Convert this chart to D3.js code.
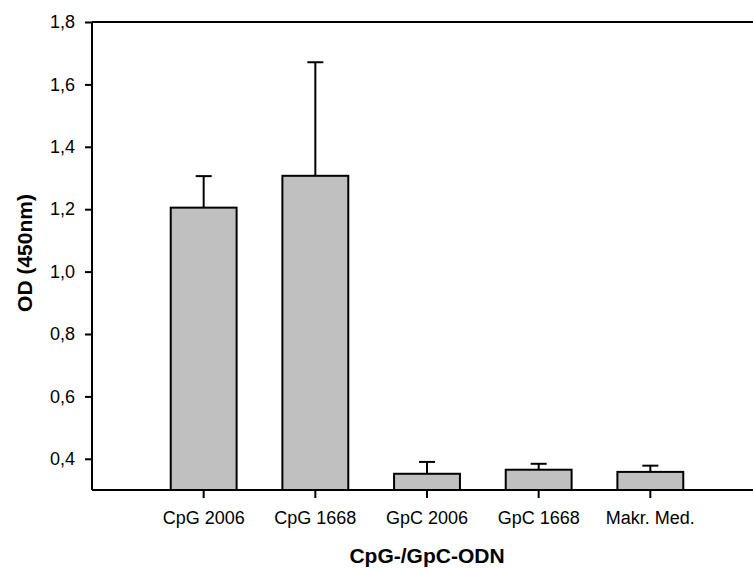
<!DOCTYPE html>
<html>
<head>
<meta charset="utf-8">
<script src="https://cdn.jsdelivr.net/npm/d3@7"></script>
<style>
  html, body { margin: 0; padding: 0; background: #fff; }
  svg { display: block; }
  text { font-family: "Liberation Sans", Arial, sans-serif; fill: #000; }
</style>
</head>
<body>
<svg id="chart" width="753" height="568"></svg>
<script>
// OD readings per ODN treatment, with the upper error (mean + SD)
const categories = ["CpG 2006", "CpG 1668", "GpC 2006", "GpC 1668", "Makr. Med."];
const means      = [1.205, 1.307, 0.352, 0.365, 0.358];
const upperError = [1.306, 1.671, 0.390, 0.384, 0.378];
const yTicks     = [0.4, 0.6, 0.8, 1.0, 1.2, 1.4, 1.6, 1.8];

const svg = d3.select("#chart");

const plot = { left: 92, right: 762, top: 22, bottom: 490 };
const slot = (plot.right - plot.left) / 6;

const x = d3.scaleBand()
  .domain(categories)
  .range([plot.left + slot / 2, plot.left + slot * 5.5])
  .paddingInner(0.41)
  .paddingOuter(0.205);

const y = d3.scaleLinear()
  .domain([0.3, 1.8])
  .range([plot.bottom, plot.top]);

const fmt = d => d3.format(".1f")(d).replace(".", ",");

// bars
svg.append("g").selectAll("rect")
  .data(categories)
  .join("rect")
  .attr("x", d => x(d))
  .attr("width", x.bandwidth())
  .attr("y", (d, i) => y(means[i]))
  .attr("height", (d, i) => y(0.3) - y(means[i]))
  .attr("fill", "#c0c0c0")
  .attr("stroke", "#000")
  .attr("stroke-width", 2);

// error bars (upper only)
const capHalf = 8;
const err = svg.append("g").attr("stroke", "#000").attr("stroke-width", 2);
categories.forEach((c, i) => {
  const cx = x(c) + x.bandwidth() / 2;
  err.append("line")
    .attr("x1", cx).attr("x2", cx)
    .attr("y1", y(means[i])).attr("y2", y(upperError[i]));
  err.append("line")
    .attr("x1", cx - capHalf).attr("x2", cx + capHalf)
    .attr("y1", y(upperError[i])).attr("y2", y(upperError[i]));
});

// frame: top edge line
svg.append("line")
  .attr("x1", plot.left).attr("x2", plot.right)
  .attr("y1", plot.top).attr("y2", plot.top)
  .attr("stroke", "#000").attr("stroke-width", 2);

// y axis
const yAxis = svg.append("g")
  .attr("transform", `translate(${plot.left},0)`)
  .call(d3.axisLeft(y).tickValues(yTicks).tickFormat(fmt).tickSize(7).tickPadding(10));
yAxis.select(".domain").attr("stroke-width", 2).attr("d", `M0,${plot.bottom}V${plot.top}`);
yAxis.selectAll(".tick line").attr("stroke-width", 2);
yAxis.selectAll(".tick text")
  .style("font-family", "Liberation Sans, Arial, sans-serif")
  .style("font-size", "18px");

// x axis
const xAxis = svg.append("g")
  .attr("transform", `translate(0,${plot.bottom})`)
  .call(d3.axisBottom(x).tickSize(8).tickPadding(13));
xAxis.select(".domain").attr("stroke-width", 2).attr("d", `M${plot.left},0H${plot.right}`);
xAxis.selectAll(".tick line").attr("stroke-width", 2);
xAxis.selectAll(".tick text")
  .style("font-family", "Liberation Sans, Arial, sans-serif")
  .style("font-size", "18px");

// axis titles
svg.append("text")
  .attr("x", 427).attr("y", 563)
  .attr("text-anchor", "middle")
  .style("font-weight", "bold").style("font-size", "21px")
  .text("CpG-/GpC-ODN");

svg.append("text")
  .attr("transform", "translate(32,253) rotate(-90)")
  .attr("text-anchor", "middle")
  .style("font-weight", "bold").style("font-size", "21px")
  .text("OD (450nm)");
</script>
</body>
</html>
